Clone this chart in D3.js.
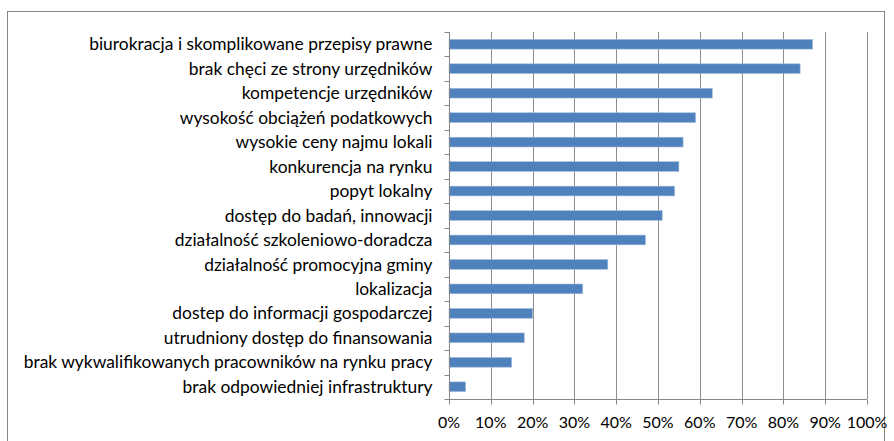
<!DOCTYPE html>
<html>
<head>
<meta charset="utf-8">
<script src="https://cdnjs.cloudflare.com/ajax/libs/d3/7.8.5/d3.min.js"></script>
<style>
  body { margin: 0; background: #fff; }
  svg text { font-family: Lato, "Open Sans", sans-serif; fill: #000; }
</style>
</head>
<body>
<div id="chart"></div>
<script>
const categories = [
    "biurokracja i skomplikowane przepisy prawne",
    "brak chęci ze strony urzędników",
    "kompetencje urzędników",
    "wysokość obciążeń podatkowych",
    "wysokie ceny najmu lokali",
    "konkurencja na rynku",
    "popyt lokalny",
    "dostęp do badań, innowacji",
    "działalność szkoleniowo-doradcza",
    "działalność promocyjna gminy",
    "lokalizacja",
    "dostep do informacji gospodarczej",
    "utrudniony dostęp do finansowania",
    "brak wykwalifikowanych pracowników na rynku pracy",
    "brak odpowiedniej infrastruktury"
];
const values = [0.87, 0.84, 0.63, 0.59, 0.56, 0.55, 0.54, 0.51, 0.47, 0.38, 0.32, 0.20, 0.18, 0.15, 0.04];
const xTicks = [0, 0.1, 0.2, 0.3, 0.4, 0.5, 0.6, 0.7, 0.8, 0.9, 1.0];

const width = 894, height = 441;
const plot = {left: 449, right: 867, top: 32, bottom: 399};

const svg = d3.select("#chart").append("svg")
    .attr("width", width)
    .attr("height", height);

// outer frame
svg.append("rect")
    .attr("x", 7.5).attr("y", 11.5)
    .attr("width", 877).attr("height", 440)
    .attr("fill", "none")
    .attr("stroke", "#868686");

const x = d3.scaleLinear().domain([0, 1]).range([plot.left, plot.right]);
const y = d3.scaleBand().domain(categories).range([plot.top, plot.bottom]).paddingInner(0.6).paddingOuter(0.3);
const yb = d3.scaleBand().domain(categories).range([plot.top, plot.bottom]);

// gridlines
svg.append("g")
    .selectAll("line")
    .data(xTicks.slice(1))
    .enter()
    .append("line")
    .attr("x1", d => Math.round(x(d)) + 0.5)
    .attr("x2", d => Math.round(x(d)) + 0.5)
    .attr("y1", plot.top)
    .attr("y2", plot.bottom)
    .attr("stroke", "#8c8c8c")
    .attr("stroke-width", 1);

// bars
svg.append("g")
    .selectAll("rect")
    .data(values)
    .enter()
    .append("rect")
    .attr("x", x(0))
    .attr("y", (d, i) => y(categories[i]))
    .attr("width", d => x(d) - x(0))
    .attr("height", y.bandwidth())
    .attr("fill", "#4f81bd")
    .attr("stroke", "#a7bfdd")
    .attr("stroke-width", 0.6);

// y axis
const yAxis = svg.append("g")
    .attr("transform", "translate(" + (Math.round(x(0)) + 0.5) + ",0)");
yAxis.append("line")
    .attr("y1", plot.top).attr("y2", plot.bottom)
    .attr("stroke", "#868686");
yAxis.selectAll(".tick")
    .data(d3.range(categories.length + 1))
    .enter()
    .append("line")
    .attr("x1", -5).attr("x2", 0)
    .attr("y1", i => Math.round(plot.top + i * yb.step()) + 0.5)
    .attr("y2", i => Math.round(plot.top + i * yb.step()) + 0.5)
    .attr("stroke", "#868686");
yAxis.selectAll("text")
    .data(categories)
    .enter()
    .append("text")
    .attr("x", -17)
    .attr("y", d => yb(d) + yb.bandwidth() / 2)
    .attr("dy", "0.35em")
    .attr("text-anchor", "end")
    .style("font-size", "17.4px")
    .text(d => d);

// x axis
const xAxis = svg.append("g")
    .attr("transform", "translate(0," + (plot.bottom + 0.5) + ")");
xAxis.append("line")
    .attr("x1", plot.left).attr("x2", plot.right)
    .attr("stroke", "#868686");
xAxis.selectAll("line.tick")
    .data(xTicks)
    .enter()
    .append("line")
    .attr("class", "tick")
    .attr("x1", d => Math.round(x(d)) + 0.5)
    .attr("x2", d => Math.round(x(d)) + 0.5)
    .attr("y1", 0).attr("y2", 5)
    .attr("stroke", "#868686");
xAxis.selectAll("text")
    .data(xTicks)
    .enter()
    .append("text")
    .attr("x", d => x(d))
    .attr("y", 23)
    .attr("dy", "0.35em")
    .attr("text-anchor", "middle")
    .style("font-size", "16px")
    .text(d => d3.format(".0%")(d));
</script>
</body>
</html>
